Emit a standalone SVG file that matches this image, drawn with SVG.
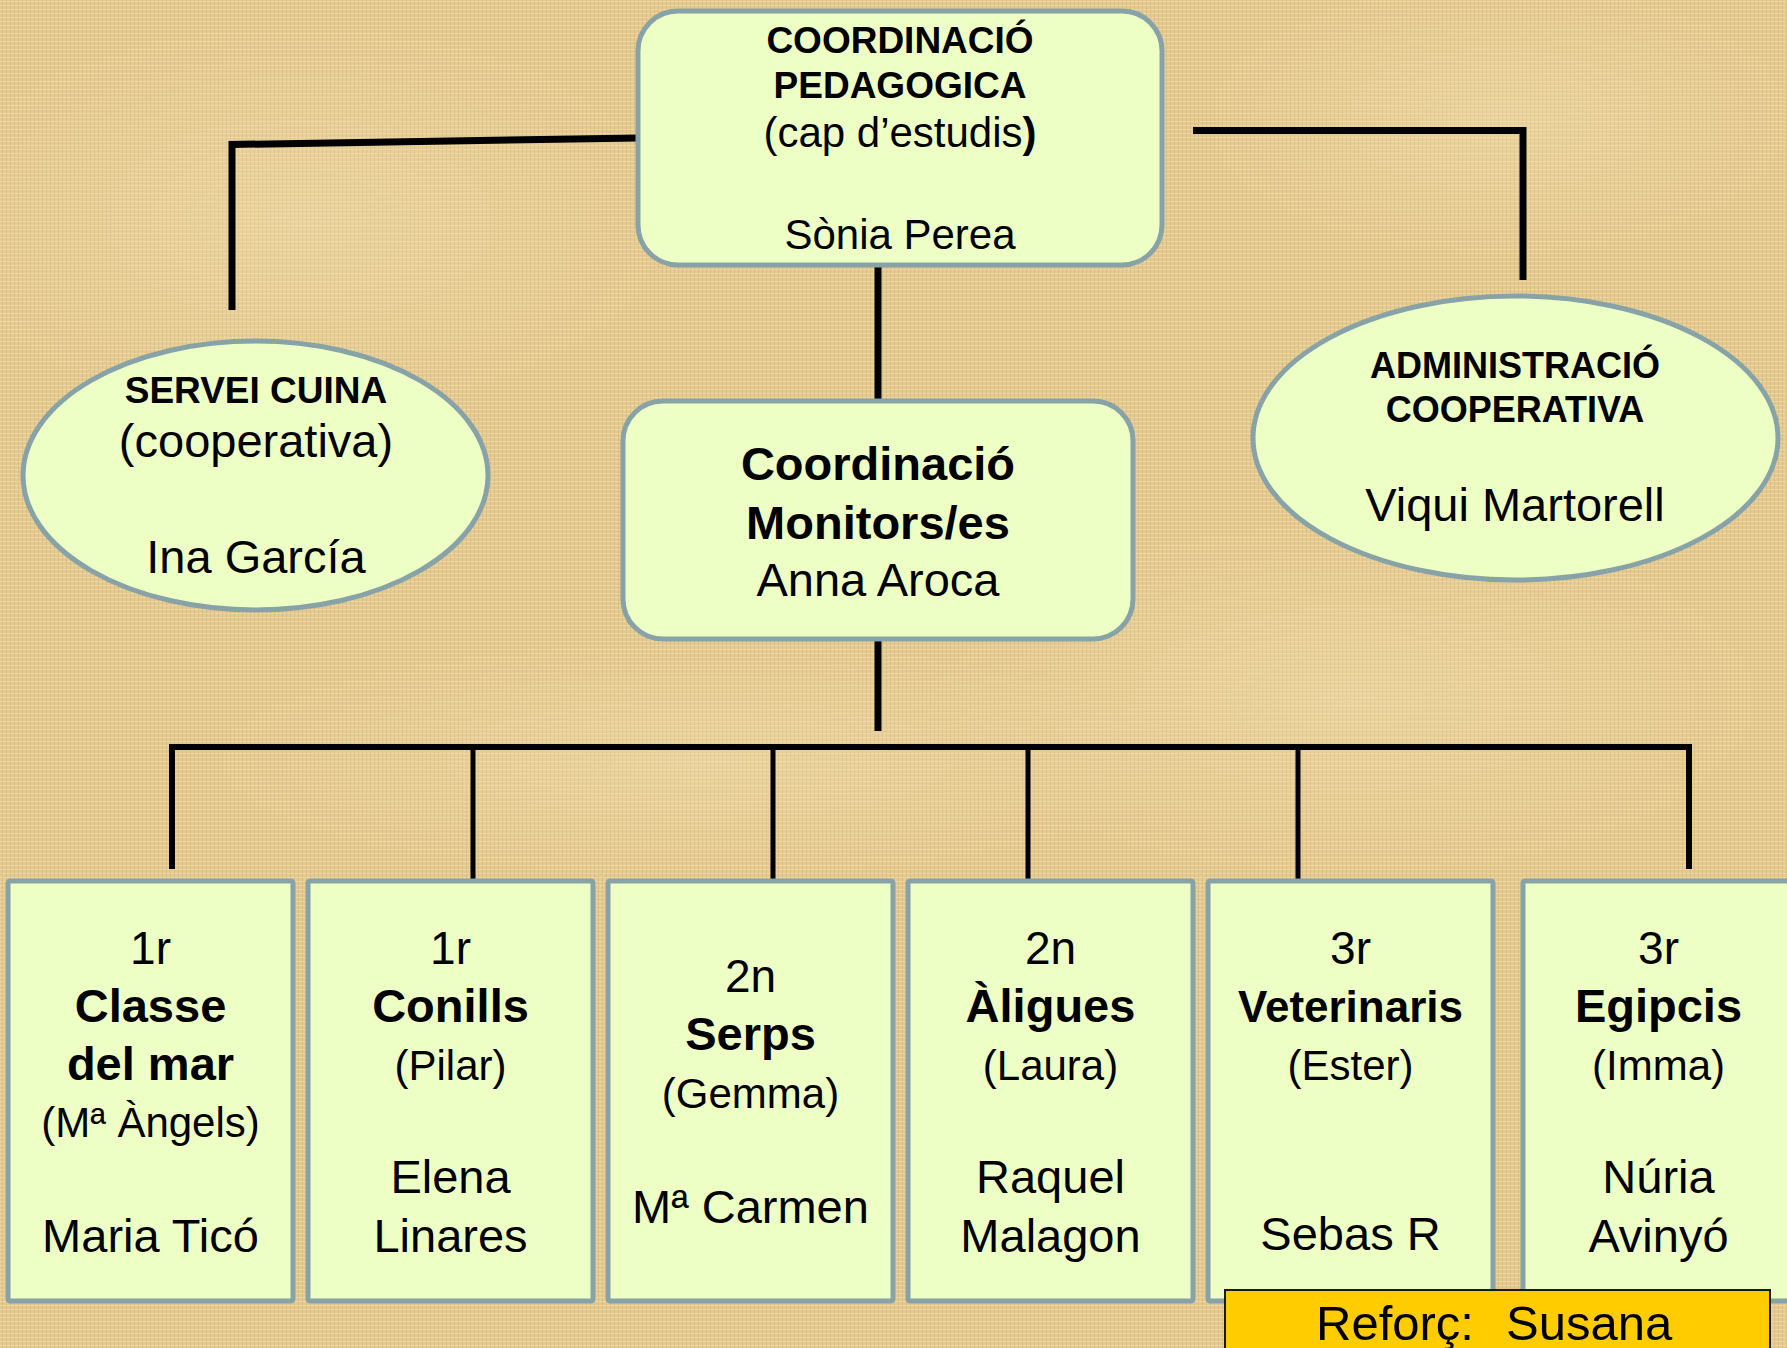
<svg xmlns="http://www.w3.org/2000/svg" width="1787" height="1348" viewBox="0 0 1787 1348">
<style>
text{font-family:"Liberation Sans",Arial,sans-serif;fill:#000;text-anchor:middle}
.b{font-weight:bold}
.node{fill:#EEFFC6;stroke:#88A3A8;stroke-width:5}
.c{fill:none;stroke:#000;stroke-linecap:butt;stroke-linejoin:miter}
</style>
<defs>
<pattern id="weave" width="8" height="8" patternUnits="userSpaceOnUse">
<rect width="8" height="8" fill="#E4C990"/>
<path d="M0 1.5H8M0 5.5H8" stroke="#F0DCAA" stroke-width="1.2" opacity="0.8"/>
<path d="M2.5 0V8M6.5 0V8" stroke="#D3B576" stroke-width="1" opacity="0.55"/>
</pattern>
<radialGradient id="blot" cx="0.5" cy="0.5" r="0.5">
<stop offset="0" stop-color="#F2DFB0" stop-opacity="0.45"/>
<stop offset="1" stop-color="#F2DFB0" stop-opacity="0"/>
</radialGradient>
</defs>
<rect width="1787" height="1348" fill="url(#weave)"/>
<ellipse cx="300" cy="220" rx="380" ry="200" fill="url(#blot)"/>
<ellipse cx="1350" cy="700" rx="420" ry="180" fill="url(#blot)"/>
<ellipse cx="700" cy="760" rx="500" ry="120" fill="url(#blot)"/>
<ellipse cx="1500" cy="120" rx="300" ry="140" fill="url(#blot)"/>

<g id="connectors">
<polyline class="c" stroke-width="7" points="638,138 232,144.5 232,310"/>
<polyline class="c" stroke-width="7" points="1193,130.5 1523,130.5 1523,280"/>
<line class="c" stroke-width="7" x1="878" y1="265" x2="878" y2="401"/>
<line class="c" stroke-width="7" x1="878" y1="639" x2="878" y2="731"/>
<polyline class="c" stroke-width="6" points="172,869 172,747 1689,747 1689,869"/>
<line class="c" stroke-width="5" x1="473" y1="747" x2="473" y2="882"/>
<line class="c" stroke-width="5" x1="773" y1="747" x2="773" y2="882"/>
<line class="c" stroke-width="5" x1="1028" y1="747" x2="1028" y2="882"/>
<line class="c" stroke-width="5" x1="1298" y1="747" x2="1298" y2="882"/>
</g>

<g id="coord-pedagogica">
<rect class="node" x="638" y="11" width="524" height="254" rx="40" ry="40"/>
<text class="b" x="900" y="53" font-size="37">COORDINACIÓ</text>
<text class="b" x="900" y="98" font-size="37">PEDAGOGICA</text>
<text x="900" y="147" font-size="42">(cap d’estudis<tspan class="b">)</tspan></text>
<text x="900" y="249" font-size="42">Sònia Perea</text>
</g>

<g id="servei-cuina">
<ellipse class="node" cx="255.5" cy="475.5" rx="232.5" ry="134.5"/>
<text class="b" x="256" y="403" font-size="37">SERVEI CUINA</text>
<text x="256" y="457" font-size="47">(cooperativa)</text>
<text x="256" y="573" font-size="47">Ina García</text>
</g>

<g id="administracio">
<ellipse class="node" cx="1515.5" cy="438" rx="262.5" ry="142"/>
<text class="b" x="1515" y="378" font-size="36">ADMINISTRACIÓ</text>
<text class="b" x="1515" y="422" font-size="36">COOPERATIVA</text>
<text x="1515" y="521" font-size="47">Viqui Martorell</text>
</g>

<g id="coord-monitors">
<rect class="node" x="623" y="401" width="510" height="238" rx="40" ry="40"/>
<text class="b" x="878" y="480" font-size="47">Coordinació</text>
<text class="b" x="878" y="539" font-size="47">Monitors/es</text>
<text x="878" y="596" font-size="47">Anna Aroca</text>
</g>

<g id="classe-del-mar">
<rect class="node" x="8" y="881" width="285" height="420" rx="2"/>
<text x="150.5" y="964" font-size="46">1r</text>
<text class="b" x="150.5" y="1022" font-size="47">Classe</text>
<text class="b" x="150.5" y="1080" font-size="47">del mar</text>
<text x="150.5" y="1137" font-size="42">(Mª Àngels)</text>
<text x="150.5" y="1252" font-size="47">Maria Ticó</text>
</g>

<g id="conills">
<rect class="node" x="308" y="881" width="285" height="420" rx="2"/>
<text x="450.5" y="964" font-size="46">1r</text>
<text class="b" x="450.5" y="1022" font-size="47">Conills</text>
<text x="450.5" y="1080" font-size="42">(Pilar)</text>
<text x="450.5" y="1193" font-size="47">Elena</text>
<text x="450.5" y="1252" font-size="47">Linares</text>
</g>

<g id="serps">
<rect class="node" x="608" y="881" width="285" height="420" rx="2"/>
<text x="750.5" y="992" font-size="46">2n</text>
<text class="b" x="750.5" y="1050" font-size="47">Serps</text>
<text x="750.5" y="1108" font-size="42">(Gemma)</text>
<text x="750.5" y="1223" font-size="47">Mª Carmen</text>
</g>

<g id="aligues">
<rect class="node" x="908" y="881" width="285" height="420" rx="2"/>
<text x="1050.5" y="964" font-size="46">2n</text>
<text class="b" x="1050.5" y="1022" font-size="47">Àligues</text>
<text x="1050.5" y="1080" font-size="42">(Laura)</text>
<text x="1050.5" y="1193" font-size="47">Raquel</text>
<text x="1050.5" y="1252" font-size="47">Malagon</text>
</g>

<g id="veterinaris">
<rect class="node" x="1208" y="881" width="285" height="420" rx="2"/>
<text x="1350.5" y="964" font-size="46">3r</text>
<text class="b" x="1350.5" y="1022" font-size="44">Veterinaris</text>
<text x="1350.5" y="1080" font-size="42">(Ester)</text>
<text x="1350.5" y="1250" font-size="47">Sebas R</text>
</g>

<g id="egipcis">
<rect class="node" x="1523" y="881" width="285" height="420" rx="2"/>
<text x="1658.5" y="964" font-size="46">3r</text>
<text class="b" x="1658.5" y="1022" font-size="47">Egipcis</text>
<text x="1658.5" y="1080" font-size="42">(Imma)</text>
<text x="1658.5" y="1193" font-size="47">Núria</text>
<text x="1658.5" y="1252" font-size="47">Avinyó</text>
</g>

<g id="reforc">
<rect x="1225" y="1290" width="545" height="80" fill="#FFCC00" stroke="#1a1a1a" stroke-width="2"/>
<text x="1316" y="1340" font-size="49" style="text-anchor:start">Reforç:<tspan x="1506">Susana</tspan></text>
</g>
</svg>
